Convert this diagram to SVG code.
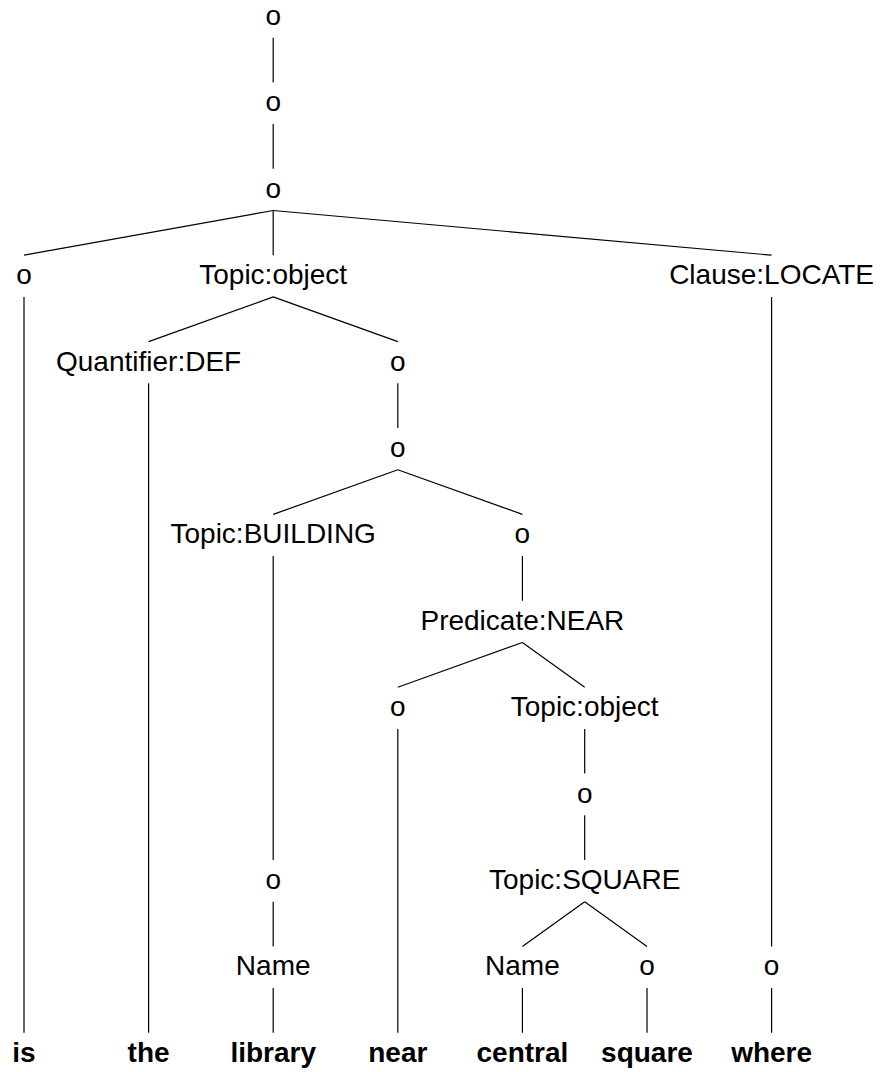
<svg xmlns="http://www.w3.org/2000/svg" width="884" height="1072" viewBox="0 0 884 1072">
<style>
text{font-family:"Liberation Sans",Arial,sans-serif;font-size:28px;text-anchor:middle;fill:#000}
text.w{font-weight:bold}
#edges line{stroke:#000;stroke-width:1.2}
</style>
<rect width="884" height="1072" fill="#fff"/>
<g id="edges">
<line x1="273.2" y1="37.7" x2="273.2" y2="82.4"/>
<line x1="273.2" y1="124.1" x2="273.2" y2="168.8"/>
<line x1="273.2" y1="210.5" x2="24" y2="255.2"/>
<line x1="273.2" y1="210.5" x2="273.2" y2="255.2"/>
<line x1="273.2" y1="210.5" x2="771.6" y2="255.2"/>
<line x1="24" y1="296.9" x2="24" y2="1032.8"/>
<line x1="273.2" y1="296.9" x2="148.6" y2="341.6"/>
<line x1="273.2" y1="296.9" x2="397.8" y2="341.6"/>
<line x1="148.6" y1="383.3" x2="148.6" y2="1032.8"/>
<line x1="397.8" y1="383.3" x2="397.8" y2="428"/>
<line x1="397.8" y1="469.7" x2="273.2" y2="514.4"/>
<line x1="397.8" y1="469.7" x2="522.4" y2="514.4"/>
<line x1="273.2" y1="556.1" x2="273.2" y2="860"/>
<line x1="273.2" y1="901.7" x2="273.2" y2="946.4"/>
<line x1="273.2" y1="988.1" x2="273.2" y2="1032.8"/>
<line x1="522.4" y1="556.1" x2="522.4" y2="600.8"/>
<line x1="522.4" y1="642.5" x2="397.8" y2="687.2"/>
<line x1="522.4" y1="642.5" x2="584.7" y2="687.2"/>
<line x1="397.8" y1="728.9" x2="397.8" y2="1032.8"/>
<line x1="584.7" y1="728.9" x2="584.7" y2="773.6"/>
<line x1="584.7" y1="815.3" x2="584.7" y2="860"/>
<line x1="584.7" y1="901.7" x2="522.4" y2="946.4"/>
<line x1="584.7" y1="901.7" x2="647" y2="946.4"/>
<line x1="522.4" y1="988.1" x2="522.4" y2="1032.8"/>
<line x1="647" y1="988.1" x2="647" y2="1032.8"/>
<line x1="771.6" y1="296.9" x2="771.6" y2="946.4"/>
<line x1="771.6" y1="988.1" x2="771.6" y2="1032.8"/>
</g>
<g id="n_root"><text x="273.2" y="25">o</text></g>
<g id="n_o1"><text x="273.2" y="111.4">o</text></g>
<g id="n_o2"><text x="273.2" y="197.8">o</text></g>
<g id="n_o3"><text x="24" y="284.2">o</text></g>
<g id="n_topic_object1"><text x="273.2" y="284.2">Topic:object</text></g>
<g id="n_clause_locate"><text x="771.6" y="284.2">Clause:LOCATE</text></g>
<g id="n_quantifier_def"><text x="148.6" y="370.6">Quantifier:DEF</text></g>
<g id="n_o4"><text x="397.8" y="370.6">o</text></g>
<g id="n_o5"><text x="397.8" y="457">o</text></g>
<g id="n_topic_building"><text x="273.2" y="543.4">Topic:BUILDING</text></g>
<g id="n_o6"><text x="522.4" y="543.4">o</text></g>
<g id="n_predicate_near"><text x="522.4" y="629.8">Predicate:NEAR</text></g>
<g id="n_o7"><text x="397.8" y="716.2">o</text></g>
<g id="n_topic_object2"><text x="584.7" y="716.2">Topic:object</text></g>
<g id="n_o8"><text x="584.7" y="802.6">o</text></g>
<g id="n_o9"><text x="273.2" y="889">o</text></g>
<g id="n_topic_square"><text x="584.7" y="889">Topic:SQUARE</text></g>
<g id="n_name1"><text x="273.2" y="975.4">Name</text></g>
<g id="n_name2"><text x="522.4" y="975.4">Name</text></g>
<g id="n_o10"><text x="647" y="975.4">o</text></g>
<g id="n_o11"><text x="771.6" y="975.4">o</text></g>
<g id="w_is"><text class="w" x="24" y="1061.8">is</text></g>
<g id="w_the"><text class="w" x="148.6" y="1061.8">the</text></g>
<g id="w_library"><text class="w" x="273.2" y="1061.8">library</text></g>
<g id="w_near"><text class="w" x="397.8" y="1061.8">near</text></g>
<g id="w_central"><text class="w" x="522.4" y="1061.8">central</text></g>
<g id="w_square"><text class="w" x="647" y="1061.8">square</text></g>
<g id="w_where"><text class="w" x="771.6" y="1061.8">where</text></g>
</svg>
